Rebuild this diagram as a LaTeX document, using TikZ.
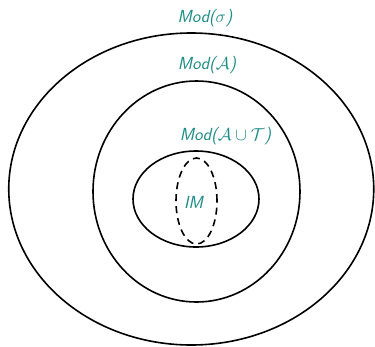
\documentclass[tikz,border=0pt]{standalone}
\usepackage{tikz}
\usetikzlibrary{calc}

\definecolor{labelteal}{RGB}{30,140,135}
\newcommand{\Md}[1]{\textsf{\slshape Mod(}#1\textsf{\slshape )}}

\begin{document}
\begin{tikzpicture}[x=1pt, y=-1pt,
    modlabel/.style={text=labelteal, font=\fontsize{17.5}{19}\selectfont\sffamily\slshape, inner sep=0pt}]
        \useasboundingbox (0,0) rectangle (375,346);

        % Nested model classes
        \draw[line width=1.6pt] (191.25,189) ellipse [x radius=182.5pt, y radius=156pt];
        \draw[line width=1.6pt] (196.5,191.5) ellipse [x radius=103.5pt, y radius=110.5pt];
        \draw[line width=1.6pt] (196,199) ellipse [x radius=63pt, y radius=48pt];

        % Intended models
        \draw[line width=1.6pt, dash pattern=on 7pt off 5pt] (196.5,201) ellipse [x radius=20.5pt, y radius=43pt];

        % Labels
        \node[modlabel] (sig) at (205,18) {\Md{$\sigma$}};
        \node[modlabel] (ax) at (207,65) {\Md{$\mathcal{A}$}};
        \node[modlabel] (axt) at (225.5,136) {\Md{$\mathcal{A}\cup\mathcal{T}$}};
        \node[modlabel] (im) at (193.5,202) {IM};
    \end{tikzpicture}
\end{document}
